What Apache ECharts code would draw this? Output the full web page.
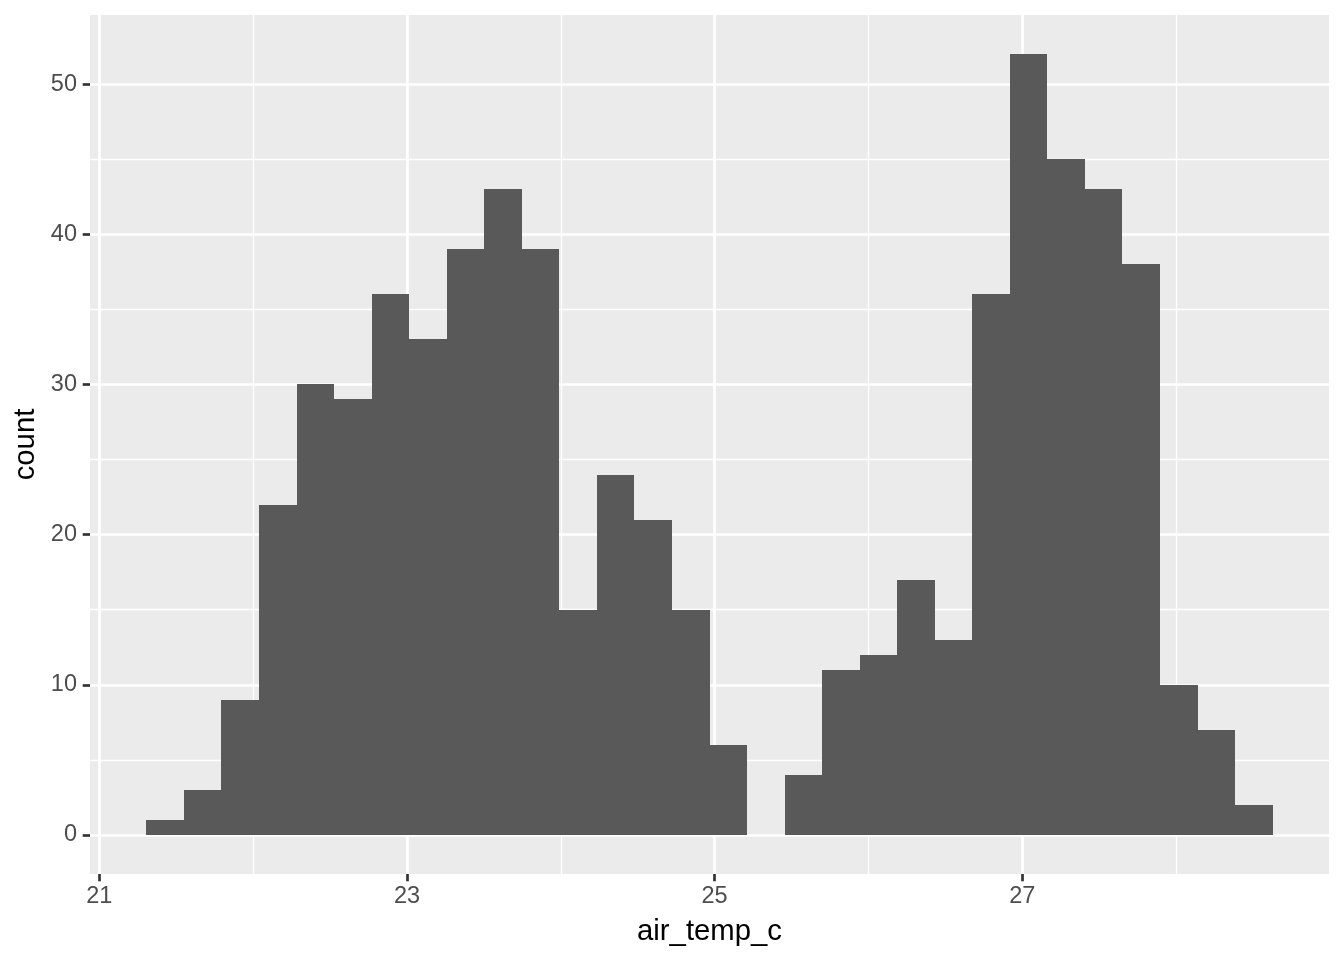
<!DOCTYPE html>
<html>
<head>
<meta charset="utf-8">
<script src="https://cdn.jsdelivr.net/npm/echarts@6/dist/echarts.min.js"></script>
<style>
html,body{margin:0;padding:0;background:#fff;}
#chart{width:1344px;height:960px;}
</style>
</head>
<body>
<div id="chart"></div>
<script>
// Histogram of air_temp_c, 30 bins
const binStart = 21.3056;
const binWidth = 0.24408;
const counts = [1,3,9,22,30,29,36,33,39,43,39,15,24,21,15,6,0,4,11,12,17,13,36,52,45,43,38,10,7,2];
const xMajorTicks = [21,23,25,27];
const xMinorTicks = [22,24,26,28];
const yMajorTicks = [0,10,20,30,40,50];
const yMinorTicks = [5,15,25,35,45,55];

const bins = counts.map((c, i) => [binStart + i * binWidth, binStart + (i + 1) * binWidth, c]);
const xSpan = counts.length * binWidth;
const xMin = binStart - 0.05 * xSpan;
const xMax = binStart + xSpan + 0.05 * xSpan;
const yTop = Math.max(...counts);
const yMin = -0.05 * yTop;
const yMax = yTop * 1.05;

const FONT = '"Liberation Sans", Arial, Helvetica, sans-serif';
const chart = echarts.init(document.getElementById('chart'), null, {renderer: 'canvas'});

function hiddenAxisBase() {
  return {axisLine:{show:false, onZero:false}, axisLabel:{show:false}};
}

chart.setOption({
  animation: false,
  backgroundColor: '#FFFFFF',
  grid: {left: 90, right: 15, top: 15, bottom: 86, show: true, backgroundColor: '#EBEBEB', borderWidth: 0, containLabel: false, outerBoundsMode: 'none'},
  xAxis: [
    {
      type: 'value', min: xMin, max: xMax, position: 'bottom',
      name: 'air_temp_c', nameLocation: 'middle', nameGap: 43,
      nameTextStyle: {fontFamily: FONT, fontSize: 29.3, color: '#000000'},
      axisLine: {show: false, onZero: false},
      axisTick: {show: true, customValues: xMajorTicks, length: 7.3, lineStyle: {color: '#333333', width: 2.7}},
      axisLabel: {customValues: xMajorTicks, fontFamily: FONT, fontSize: 23.5, color: '#4D4D4D', margin: 11},
      splitLine: {show: true, lineStyle: {color: '#FFFFFF', width: 2.7}}
    },
    Object.assign({
      type: 'value', min: xMin, max: xMax, position: 'top',
      axisTick: {show: false, customValues: xMinorTicks},
      splitLine: {show: true, lineStyle: {color: '#FFFFFF', width: 1.35}}
    }, hiddenAxisBase())
  ],
  yAxis: [
    {
      type: 'value', min: yMin, max: yMax, position: 'left',
      name: 'count', nameLocation: 'middle', nameGap: 50, nameRotate: 90,
      nameTextStyle: {fontFamily: FONT, fontSize: 29.3, color: '#000000'},
      axisLine: {show: false, onZero: false},
      axisTick: {show: true, customValues: yMajorTicks, length: 7.3, lineStyle: {color: '#333333', width: 2.7}},
      axisLabel: {customValues: yMajorTicks, fontFamily: FONT, fontSize: 23.5, color: '#4D4D4D', margin: 13},
      splitLine: {show: true, lineStyle: {color: '#FFFFFF', width: 2.7}}
    },
    Object.assign({
      type: 'value', min: yMin, max: yMax, position: 'right',
      axisTick: {show: false, customValues: yMinorTicks},
      splitLine: {show: true, lineStyle: {color: '#FFFFFF', width: 1.35}}
    }, hiddenAxisBase())
  ],
  series: [{
    type: 'custom',
    xAxisIndex: 0, yAxisIndex: 0,
    data: bins,
    encode: {x: [0, 1], y: 2},
    renderItem: function (params, api) {
      const p0 = api.coord([api.value(0), api.value(2)]);
      const p1 = api.coord([api.value(1), 0]);
      const x0 = Math.round(p0[0]), x1 = Math.round(p1[0]);
      const y0 = Math.round(p0[1]), y1 = Math.round(p1[1]);
      return {
        type: 'rect',
        shape: {x: x0, y: y0, width: x1 - x0, height: y1 - y0},
        style: {fill: '#595959'}
      };
    }
  }]
});
</script>
</body>
</html>
